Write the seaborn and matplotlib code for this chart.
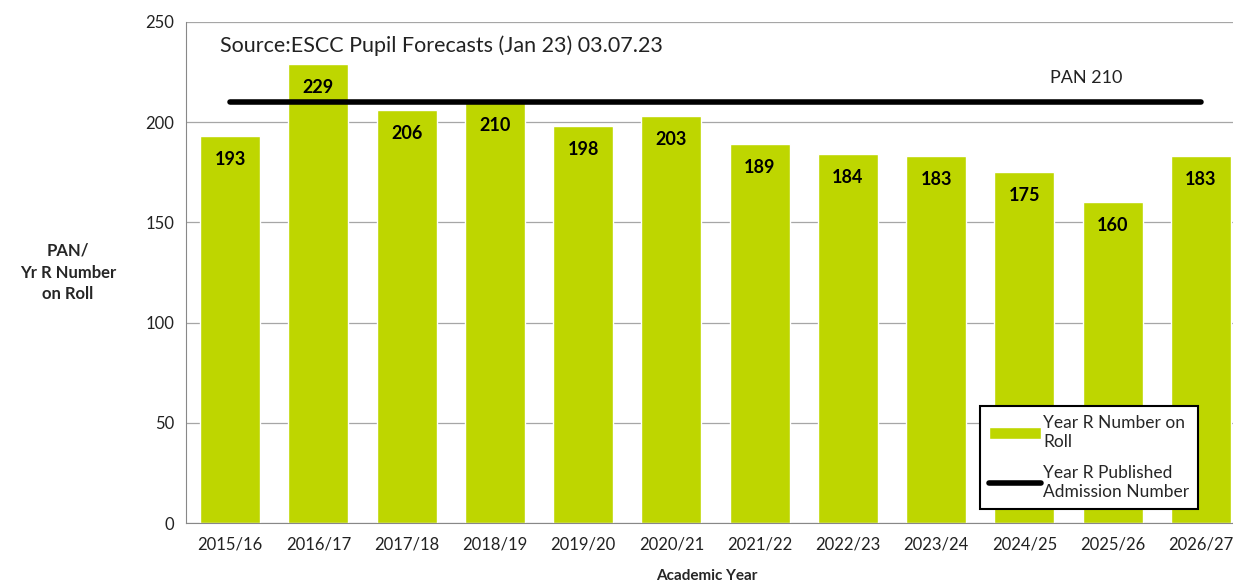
import numpy as np
import pandas as pd
import matplotlib.pyplot as plt
import seaborn as sns

sns.set_style('white')
plt.rcParams['font.family'] = ['Lato', 'DejaVu Sans']

years = ['2015/16', '2016/17', '2017/18', '2018/19', '2019/20', '2020/21',
         '2021/22', '2022/23', '2023/24', '2024/25', '2025/26', '2026/27']
number_on_roll = [193, 229, 206, 210, 198, 203, 189, 184, 183, 175, 160, 183]
pan = [210] * len(years)

BAR_COLOR = '#BED600'

df = pd.DataFrame({'year': years, 'roll': number_on_roll, 'pan': pan})

fig = plt.figure(figsize=(12.33, 5.86), dpi=100)
ax = fig.add_axes([186 / 1233, 1 - 523 / 586, (1245 - 186) / 1233, (523 - 22) / 586])

sns.barplot(data=df, x='year', y='roll', color=BAR_COLOR, width=0.68,
            saturation=1, ax=ax, label='Year R Number on\nRoll', zorder=2)
ax.plot(np.arange(len(years)), df['pan'], color='black', lw=4,
        solid_capstyle='round', zorder=3,
        label='Year R Published\nAdmission Number')

# value labels inside the bars
for i, v in enumerate(number_on_roll):
    ax.text(i, v - 11.5, str(v), ha='center', va='center', fontsize=13,
            fontweight='bold', color='black', zorder=4)

ax.set_ylim(0, 250)
ax.set_yticks(range(0, 251, 50))
ax.set_xlim(-0.5, len(years) - 0.5)
ax.yaxis.grid(True, color='#A6A6A6', lw=0.9, zorder=0)
ax.set_axisbelow(True)
for side in ['top', 'right']:
    ax.spines[side].set_visible(False)
for side in ['left', 'bottom']:
    ax.spines[side].set_color('#888888')

ax.tick_params(axis='both', labelsize=12, colors='#222222', length=5,
               direction='out', width=0.8)
ax.tick_params(axis='x', length=0, pad=10)
ax.tick_params(axis='y', color='#888888')
# x ticks between categories, Excel style
ax.set_xticks(np.arange(-0.5, len(years), 1), minor=True)
ax.tick_params(axis='x', which='minor', length=6, color='#888888')

ax.set_xlabel('Academic Year', fontsize=11, fontweight='bold')
ax.xaxis.set_label_coords((707 - 186) / (1245 - 186), -(576 - 523) / 501)
ax.xaxis.label.set_va('center')
ax.set_ylabel('PAN/\nYr R Number\non Roll', fontsize=12, fontweight='bold',
              rotation=0, ha='center', va='center', linespacing=1.45)
ax.yaxis.set_label_coords(-(186 - 68) / (1245 - 186), 0.5)

ax.text(0.38 - 0.5, 238, 'Source:ESCC Pupil Forecasts (Jan 23) 03.07.23',
        fontsize=15.5, ha='left', va='center', color='#222222')
ax.text(9.7, 222, 'PAN 210', fontsize=13, ha='center', va='center',
        color='#222222')

handles, labels = ax.get_legend_handles_labels()
order = [labels.index('Year R Number on\nRoll'), labels.index('Year R Published\nAdmission Number')]
leg = ax.legend([handles[k] for k in order], [labels[k] for k in order],
                loc='lower left', bbox_to_anchor=((977 - 186) / (1245 - 186), (523 - 512) / 501),
                frameon=True, fancybox=False, framealpha=1, fontsize=12.5, handlelength=3.0,
                labelspacing=0.9, borderpad=0.5, handletextpad=0.1, borderaxespad=0.2)
leg.get_frame().set_edgecolor('black')
leg.get_frame().set_linewidth(1.5)

fig.savefig('out.png', dpi=100)
